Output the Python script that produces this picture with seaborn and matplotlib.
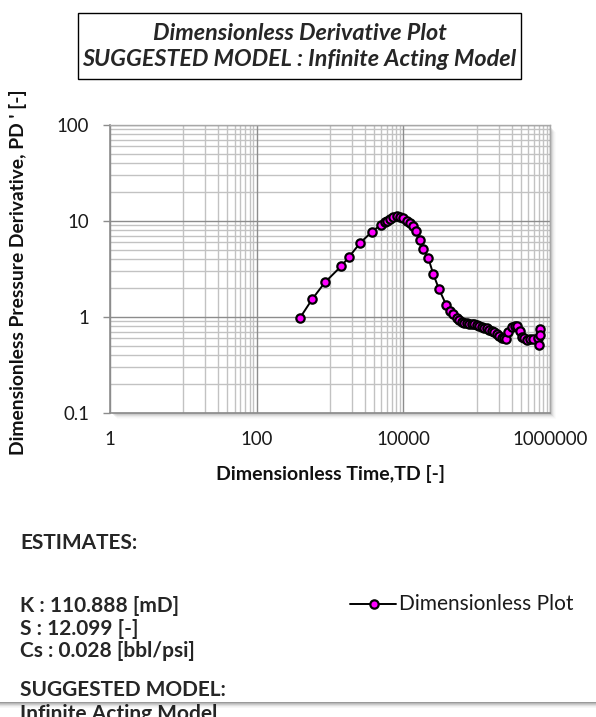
import numpy as np
import pandas as pd
import matplotlib
matplotlib.use("Agg")
import matplotlib.pyplot as plt
from matplotlib.patches import Rectangle
from matplotlib.lines import Line2D
from matplotlib.ticker import FixedLocator, NullFormatter
import seaborn as sns

# Dimensionless time and pressure derivative
td = [390, 574, 855, 1430, 1830, 2590, 3740, 4900, 5600, 5930, 6580, 7300,
      8120, 9010, 10000, 11100, 12300, 13700, 14900, 16900, 18700, 21900,
      25600, 30400, 38500, 43300, 47900, 54500, 58000, 62500, 67000, 73100,
      79000, 85600, 92000, 100000, 108000, 117000, 127000, 137000, 148000,
      160000, 173000, 188000, 204000, 220000, 236000, 251000, 270000, 300000,
      330000, 352000, 390000, 411000, 440000, 481000, 540000, 593000, 692000,
      731000, 740000, 708000]
pd_deriv = [0.98, 1.54, 2.30, 3.40, 4.25, 5.94, 7.74, 9.1, 9.7, 10.1, 10.6,
            11.0, 11.2, 11.1, 10.7, 10.1, 9.5, 8.9, 7.9, 6.3, 5.1, 4.1, 2.8,
            1.98, 1.33, 1.16, 1.07, 0.97, 0.93, 0.89, 0.87, 0.86, 0.855, 0.85,
            0.84, 0.83, 0.81, 0.79, 0.775, 0.76, 0.74, 0.72, 0.70, 0.67, 0.64,
            0.61, 0.60, 0.59, 0.70, 0.79, 0.81, 0.81, 0.72, 0.62, 0.60, 0.58,
            0.59, 0.59, 0.60, 0.745, 0.65, 0.51]

x_ticks = [1, 100, 10000, 1000000]
x_tick_labels = ["1", "100", "10000", "1000000"]
y_ticks = [0.1, 1, 10, 100]
y_tick_labels = ["0.1", "1", "10", "100"]

title_lines = ["Dimensionless Derivative Plot",
               "SUGGESTED MODEL : Infinite Acting Model"]
estimates = ["K : 110.888 [mD]", "S : 12.099 [-]", "Cs : 0.028 [bbl/psi]"]
model_name = "Infinite Acting Model"
series_name = "Dimensionless Plot"

df = pd.DataFrame({"TD": td, "PD": pd_deriv})

sns.set_theme(style="white")
plt.rcParams["font.family"] = ["Lato", "DejaVu Sans"]

W, H = 596, 717
fig = plt.figure(figsize=(W / 100, H / 100), dpi=100)
fig.patch.set_facecolor("white")


def fx(x):
    return x / W


def fy(y):
    return 1 - y / H


# plot area in pixel coords
L, R, T, B = 110, 550, 125, 413
ax = fig.add_axes([fx(L), fy(B), fx(R) - fx(L), fy(T) - fy(B)])

# soft drop shadow on right and bottom of plot area
for i, a in enumerate([0.10, 0.08, 0.06, 0.04, 0.025, 0.015]):
    d = i + 1
    fig.patches.append(Rectangle((fx(L + d + 1), fy(B + d)),
                                 fx(R + d) - fx(L + d + 1),
                                 fy(T + d + 1) - fy(B + d),
                                 transform=fig.transFigure, facecolor="black",
                                 edgecolor="none", alpha=a, zorder=0))
ax.set_zorder(2)
ax.set_facecolor("white")

sns.lineplot(data=df, x="TD", y="PD", ax=ax, sort=False, estimator=None,
             color="black", linewidth=1.4, marker="o", markersize=6,
             markerfacecolor="#ff00ff", markeredgecolor="black",
             markeredgewidth=1.6, zorder=5, legend=False)

ax.set_xscale("log")
ax.set_yscale("log")
ax.set_xlim(1, 1e6)
ax.set_ylim(0.1, 100)

# gridlines
minor_x = [k * 10.0 ** e for e in (1, 3, 5) for k in range(1, 10)]
minor_y = [k * 10.0 ** e for e in (-1, 0, 1) for k in range(2, 10)]
for v in minor_x:
    ax.axvline(v, color="#c2c2c2", lw=1.0, zorder=1)
for v in minor_y:
    ax.axhline(v, color="#c2c2c2", lw=1.0, zorder=1)
for v in x_ticks:
    ax.axvline(v, color="#8c8c8c", lw=1.0, zorder=1.5)
for v in y_ticks:
    ax.axhline(v, color="#8c8c8c", lw=1.0, zorder=1.5)

ax.xaxis.set_major_locator(FixedLocator(x_ticks))
ax.xaxis.set_minor_locator(FixedLocator([]))
ax.yaxis.set_major_locator(FixedLocator(y_ticks))
ax.yaxis.set_minor_locator(FixedLocator([]))
ax.set_xticklabels(x_tick_labels)
ax.set_yticklabels(y_tick_labels)
ax.xaxis.set_minor_formatter(NullFormatter())
ax.yaxis.set_minor_formatter(NullFormatter())
ax.tick_params(axis="x", length=0, pad=13, labelsize=13.4, labelcolor="#1a1a1a")
ax.tick_params(axis="y", length=5, width=1, color="#8c8c8c", pad=10,
               labelsize=13.4, labelcolor="#1a1a1a", left=True)

for side in ["top", "right"]:
    ax.spines[side].set_visible(True)
    ax.spines[side].set_color("#a8a8a8")
    ax.spines[side].set_linewidth(1.0)
for side in ["left", "bottom"]:
    ax.spines[side].set_color("#8c8c8c")
    ax.spines[side].set_linewidth(1.2)

ax.set_xlabel("")
ax.set_ylabel("")
fig.text(fx(330), fy(474), "Dimensionless Time,TD [-]", ha="center",
         va="center", fontsize=14, fontweight="bold", color="#111111")
fig.text(fx(18), fy(272), "Dimensionless Pressure Derivative, PD ' [-]",
         ha="center", va="center", rotation=90, fontsize=13.9,
         fontweight="bold", color="#111111")

# title box
fig.patches.append(Rectangle((fx(78), fy(79)), fx(521) - fx(78),
                             fy(13) - fy(79), transform=fig.transFigure,
                             facecolor="white", edgecolor="black", lw=1.0,
                             zorder=3))
fig.text(fx(299.5), fy(33), title_lines[0], ha="center", va="center",
         fontsize=16.8, fontweight="bold", fontstyle="italic", zorder=4)
fig.text(fx(299.5), fy(60), title_lines[1], ha="center", va="center",
         fontsize=16.8, fontweight="bold", fontstyle="italic", zorder=4)

# estimates block
fs_est = 15
fig.text(fx(20), fy(543), "ESTIMATES:", ha="left", va="center",
         fontsize=fs_est, fontweight="bold")
for yy, s in zip([606, 629, 651], estimates):
    fig.text(fx(20), fy(yy), s, ha="left", va="center", fontsize=fs_est,
             fontweight="bold")
fig.text(fx(20), fy(690), "SUGGESTED MODEL:", ha="left", va="center",
         fontsize=fs_est, fontweight="bold")
fig.text(fx(20), fy(714), model_name, ha="left", va="center",
         fontsize=fs_est, fontweight="bold")

# legend entry
fig.lines.append(Line2D([fx(350), fx(396)], [fy(604), fy(604)],
                        transform=fig.transFigure, color="black", lw=1.4,
                        zorder=4))
fig.lines.append(Line2D([fx(374)], [fy(604)], transform=fig.transFigure,
                        color="black", marker="o", markersize=6,
                        markerfacecolor="#ff00ff", markeredgecolor="black",
                        markeredgewidth=1.6, zorder=5))
fig.text(fx(399), fy(604), series_name, ha="left", va="center", fontsize=15,
         color="#1a1a1a")

# shadow band near bottom edge
for i, a in enumerate([0.28, 0.2, 0.12, 0.06, 0.03]):
    fig.patches.append(Rectangle((0, fy(703 + i + 1)), 1, 1 / H,
                                 transform=fig.transFigure,
                                 facecolor="black", edgecolor="none",
                                 alpha=a, zorder=6))
fig.patches.append(Rectangle((0, fy(703)), 1, 1.2 / H,
                             transform=fig.transFigure,
                             facecolor="#9a9a9a", edgecolor="none", zorder=6))

fig.savefig("out.png", dpi=100, facecolor="white")
